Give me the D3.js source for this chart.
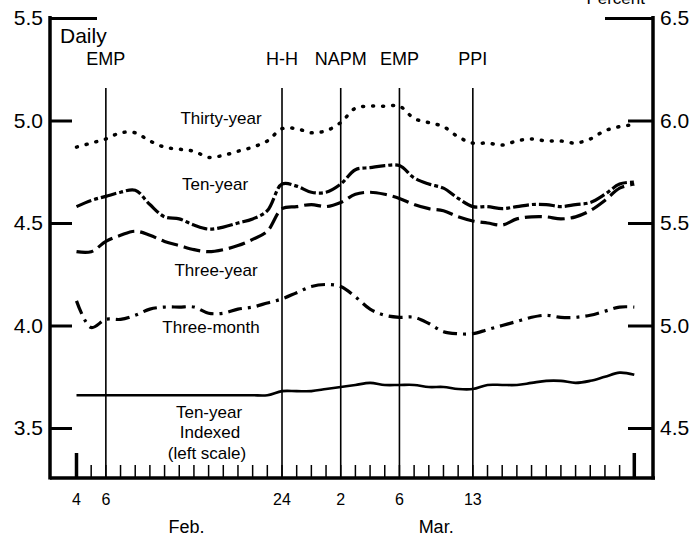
<!DOCTYPE html>
<html>
<head>
<meta charset="utf-8">
<script src="https://cdn.jsdelivr.net/npm/d3@7"></script>
<style>
body { margin: 0; background: #fff; }
text { font-family: "Liberation Sans", Arial, sans-serif; fill: #000; }
</style>
</head>
<body>
<script>
// business days, Feb 4 = 0 ... end of March = 38
var days = d3.range(0, 39);

// right scale, percent
var thirtyYear = [5.87,5.89,5.91,5.94,5.94,5.90,5.87,5.86,5.85,5.82,5.83,5.85,5.87,5.90,5.96,5.96,5.94,5.95,5.99,6.06,6.07,6.07,6.07,6.01,5.99,5.97,5.92,5.89,5.89,5.88,5.90,5.91,5.90,5.90,5.89,5.91,5.95,5.97,5.98];
var tenYear = [5.58,5.61,5.63,5.65,5.66,5.59,5.53,5.52,5.49,5.47,5.48,5.50,5.52,5.56,5.69,5.68,5.65,5.65,5.69,5.76,5.77,5.78,5.78,5.72,5.69,5.67,5.62,5.58,5.58,5.57,5.58,5.59,5.59,5.58,5.59,5.60,5.64,5.69,5.70];
var threeYear = [5.36,5.36,5.41,5.44,5.46,5.44,5.41,5.39,5.37,5.36,5.37,5.39,5.42,5.46,5.57,5.58,5.59,5.58,5.60,5.64,5.65,5.64,5.62,5.59,5.57,5.56,5.53,5.51,5.50,5.49,5.52,5.53,5.53,5.52,5.53,5.56,5.61,5.67,5.69];
var threeMonth = [5.12,4.99,5.03,5.03,5.05,5.08,5.09,5.09,5.09,5.06,5.06,5.08,5.09,5.11,5.13,5.16,5.19,5.20,5.19,5.14,5.08,5.05,5.04,5.04,5.01,4.97,4.96,4.96,4.98,5.00,5.02,5.04,5.05,5.04,5.04,5.05,5.07,5.09,5.09];
// left scale
var tenYearIndexed = [3.66,3.66,3.66,3.66,3.66,3.66,3.66,3.66,3.66,3.66,3.66,3.66,3.66,3.66,3.68,3.68,3.68,3.69,3.70,3.71,3.72,3.71,3.71,3.71,3.70,3.70,3.69,3.69,3.71,3.71,3.71,3.72,3.73,3.73,3.72,3.73,3.75,3.77,3.76];

var leftTicks = [3.5, 4.0, 4.5, 5.0, 5.5];
var rightTicks = [4.5, 5.0, 5.5, 6.0, 6.5];

var eventDays = [2, 14, 18, 22, 27];
var eventLabels = ['EMP', 'H-H', 'NAPM', 'EMP', 'PPI'];

var dayTickDays = [0, 2, 14, 18, 22, 27];
var dayTickLabels = ['4', '6', '24', '2', '6', '13'];

var monthDays = [7.5, 24.5];
var monthLabels = ['Feb.', 'Mar.'];

var svg = d3.select('body').append('svg')
    .attr('width', 697)
    .attr('height', 543);

var x = d3.scaleLinear().domain([0, 38]).range([76.5, 634.3]);
var yLeft = d3.scaleLinear().domain([3.5, 5.5]).range([428, 18]);
var yRight = d3.scaleLinear().domain([4.5, 6.5]).range([428, 18]);

var left = 50, right = 653, bottom = 478;

// cut-off header on top
svg.append('text').attr('x', 645).attr('y', 4).attr('text-anchor', 'end')
    .style('font-size', '17px').text('Percent');

// event lines
svg.selectAll('.event').data(eventDays).enter().append('line')
    .attr('x1', function(d){ return x(d); })
    .attr('x2', function(d){ return x(d); })
    .attr('y1', 88).attr('y2', bottom)
    .attr('stroke', '#000').attr('stroke-width', 1.6);

svg.selectAll('.eventLabel').data(eventDays).enter().append('text')
    .attr('x', function(d){ return x(d); })
    .attr('y', 65)
    .attr('text-anchor', 'middle')
    .style('font-size', '18px')
    .text(function(d, i){ return eventLabels[i]; });

svg.append('text').attr('x', 60).attr('y', 43).style('font-size', '21px').text('Daily');

// axes frame
svg.append('line').attr('x1', left).attr('x2', left).attr('y1', 16).attr('y2', bottom + 1.5)
    .attr('stroke', '#000').attr('stroke-width', 3.5);
svg.append('line').attr('x1', right).attr('x2', right).attr('y1', 16).attr('y2', bottom + 1.5)
    .attr('stroke', '#000').attr('stroke-width', 3.5);
svg.append('line').attr('x1', left).attr('x2', right + 2).attr('y1', bottom).attr('y2', bottom)
    .attr('stroke', '#000').attr('stroke-width', 3.5);

var gl = svg.append('g').attr('transform', 'translate(' + left + ',0)')
    .call(d3.axisLeft(yLeft).tickValues(leftTicks).tickSize(-22).tickPadding(7).tickFormat(d3.format('.1f')));
var gr = svg.append('g').attr('transform', 'translate(' + right + ',0)')
    .call(d3.axisRight(yRight).tickValues(rightTicks).tickSize(-25).tickPadding(7).tickFormat(d3.format('.1f')));

[gl, gr].forEach(function(g){
    g.select('.domain').remove();
    g.selectAll('.tick line').attr('stroke', '#000').attr('stroke-width', 3);
    g.selectAll('.tick text').style('font-size', '21px').style('font-family', '"Liberation Sans", Arial, sans-serif').attr('fill', '#000');
});
gl.selectAll('.tick line').filter(function(d){ return d === 5.5; }).attr('x2', 47);
gr.selectAll('.tick line').filter(function(d){ return d === 6.5; }).attr('x2', -48);

// day ticks along the bottom
svg.selectAll('.dayTick').data(days).enter().append('line')
    .attr('x1', function(d){ return x(d); })
    .attr('x2', function(d){ return x(d); })
    .attr('y1', bottom)
    .attr('y2', function(d){ return (d === 0 || d === 38) ? bottom - 25 : bottom - 13; })
    .attr('stroke', '#000')
    .attr('stroke-width', function(d){ return (d === 0 || d === 38) ? 3.5 : 1.5; });

svg.selectAll('.dayLabel').data(dayTickDays).enter().append('text')
    .attr('x', function(d){ return x(d); })
    .attr('y', 505)
    .attr('text-anchor', 'middle')
    .style('font-size', '16px')
    .text(function(d, i){ return dayTickLabels[i]; });

svg.selectAll('.monthLabel').data(monthDays).enter().append('text')
    .attr('x', function(d){ return x(d); })
    .attr('y', 533)
    .attr('text-anchor', 'middle')
    .style('font-size', '18px')
    .text(function(d, i){ return monthLabels[i]; });

// series
var lineRight = d3.line()
    .x(function(d, i){ return x(days[i]); })
    .y(function(d){ return yRight(d); })
    .curve(d3.curveCatmullRom);
var lineLeft = d3.line()
    .x(function(d, i){ return x(days[i]); })
    .y(function(d){ return yLeft(d); })
    .curve(d3.curveCatmullRom);

function drawSeries(values, gen, dash, width, cap){
    svg.append('path')
        .datum(values)
        .attr('d', gen)
        .attr('fill', 'none')
        .attr('stroke', '#000')
        .attr('stroke-width', width)
        .attr('stroke-linecap', cap)
        .attr('stroke-dasharray', dash);
}

drawSeries(thirtyYear, lineRight, '1,9', 3.5, 'round');
drawSeries(tenYear, lineRight, '16,3,4,3', 3.2, 'butt');
drawSeries(threeYear, lineRight, '17,6', 3.2, 'butt');
drawSeries(threeMonth, lineRight, '14,6,3,6', 3.2, 'butt');
drawSeries(tenYearIndexed, lineLeft, null, 2.6, 'butt');

// series labels
var seriesLabels = ['Thirty-year', 'Ten-year', 'Three-year', 'Three-month', 'Ten-year', 'Indexed', '(left scale)'];
var labelX = [221, 215, 216, 211, 209, 210, 207];
var labelY = [124, 190, 276, 333, 418, 438, 459];

svg.selectAll('.seriesLabel').data(seriesLabels).enter().append('text')
    .attr('x', function(d, i){ return labelX[i]; })
    .attr('y', function(d, i){ return labelY[i]; })
    .attr('text-anchor', 'middle')
    .style('font-size', '17px')
    .text(function(d){ return d; });
</script>
</body>
</html>
